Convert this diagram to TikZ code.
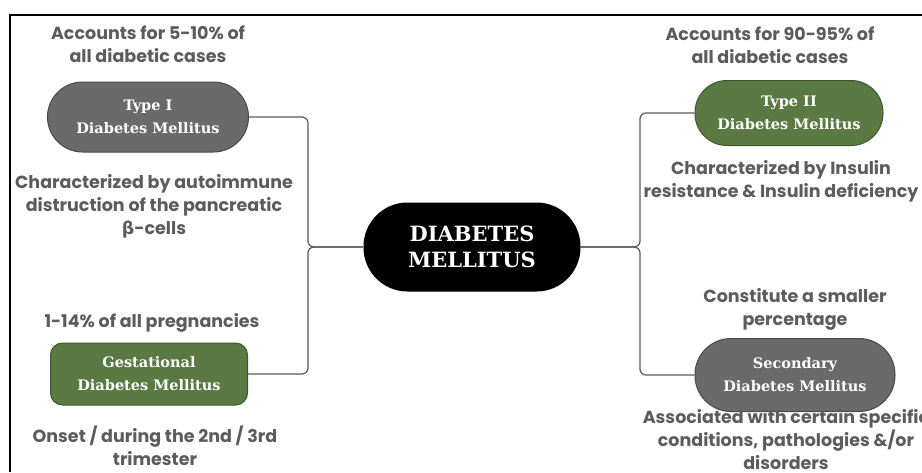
\documentclass[tikz,border=0pt]{standalone}
\usepackage{fontspec}
\setmainfont{Poppins}
\newfontfamily\ovalfont{DejaVu Serif}
\newfontfamily\greekfont{DejaVu Sans}
\definecolor{notegrey}{HTML}{5C5C5C}
\definecolor{ovalgrey}{HTML}{6A6A6A}
\definecolor{ovalgreen}{HTML}{5A7943}
\definecolor{linegrey}{HTML}{5A5A5A}
\tikzset{
	note/.style={align=center, text=notegrey, font=\bfseries\fontsize{17.5}{23}\selectfont, inner sep=0pt},
	kind/.style={align=center, text=white, font=\ovalfont\bfseries\fontsize{14.5}{23}\selectfont, draw=#1!70!black, fill=#1, line width=1pt},
	link/.style={draw=linegrey, line width=1.2pt, rounded corners=6pt}
}
\begin{document}
\begin{tikzpicture}[x=1pt,y=-1pt]
	\useasboundingbox (0,0) rectangle (922,472);
	\fill[white] (0,0) rectangle (922,472);
	\draw[line width=2pt] (10,472) -- (10,15) -- (922,15);
	\node[kind=ovalgrey, minimum width=201pt, minimum height=70pt, rounded corners=35pt] at (148,117) (type1) {Type I\\Diabetes Mellitus};
	\node[kind=ovalgreen, minimum width=197pt, minimum height=62pt, rounded corners=12pt] at (149,374) (gdm) {Gestational\\Diabetes Mellitus};
	\node[kind=ovalgreen, minimum width=188pt, minimum height=65pt, rounded corners=32pt] at (789,113) (type2) {Type II\\Diabetes Mellitus};
	\node[kind=ovalgrey, minimum width=200pt, minimum height=73pt, rounded corners=36pt] at (795,375) (sdm) {Secondary\\Diabetes Mellitus};
	\node[fill=black, text=white, align=center, minimum width=217pt, minimum height=89pt, rounded corners=44pt, font=\ovalfont\bfseries\fontsize{21}{26}\selectfont] at (472,247) (hub) {DIABETES\\MELLITUS};
	\coordinate (ljoin) at (308,247);
	\coordinate (rjoin) at (640,247);
	\draw[link] (type1.east) -| (ljoin) -- (hub.west);
	\draw[link] (gdm.east) -| (ljoin) -- (hub.west);
	\draw[link] (hub.east) -- (rjoin) |- (type2.west);
	\draw[link] (hub.east) -- (rjoin) |- (sdm.west);
	\node[note] at (148,44) (n1) {Accounts for 5-10\% of\\all diabetic cases};
	\node[note] at (154,206) (n2) {Characterized by autoimmune\\distruction of the pancreatic\\{\greekfont β}-cells};
	\node[note] at (152,323) (n3) {1-14\% of all pregnancies};
	\node[note] at (155,446) (n4) {Onset / during the 2nd / 3rd\\trimester};
	\node[note] at (770,45) (n5) {Accounts for 90-95\% of\\all diabetic cases};
	\node[note] at (781,181) (n6) {Characterized by Insulin\\resistance \& Insulin deficiency};
	\node[note] at (795,309) (n7) {Constitute a smaller\\percentage};
	\node[note] at (786,440) (n8) {Associated with certain specific\\conditions, pathologies \&/or\\disorders};
\end{tikzpicture}
\end{document}
